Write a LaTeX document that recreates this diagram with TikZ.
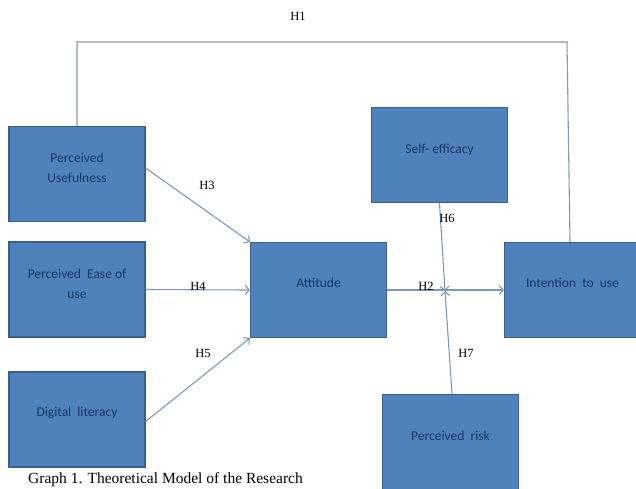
\documentclass[tikz,border=0pt]{standalone}
\usepackage{fontspec}
\setmainfont{Liberation Serif}
\newfontfamily\boxfont{Carlito}
\usetikzlibrary{arrows.meta}
\definecolor{boxblue}{HTML}{4F81BD}
\definecolor{boxline}{HTML}{3A5F8C}
\definecolor{boxtextcol}{HTML}{17365D}
\definecolor{arrowcol}{HTML}{7F98B8}
\definecolor{linegray}{HTML}{8A97A5}

\begin{document}
\begin{tikzpicture}[x=1pt,y=1pt]

%
% Styles
%
\tikzstyle{box}     = [rectangle,draw=boxline,fill=boxblue,line width=1.2pt,minimum width=136pt,minimum height=95pt,inner sep=0pt]
\tikzstyle{boxtext} = [align=center,text=boxtextcol,font=\boxfont\fontsize{13.5}{20}\selectfont]
\tikzstyle{edge}    = [-{Straight Barb[length=4pt,width=9pt]},draw=arrowcol,line width=1.1pt]
\tikzstyle{tag}     = [font=\fontsize{12.5}{14}\selectfont,inner sep=0pt]

\useasboundingbox (0,0) rectangle (636,-488);

\node[box] (pu)  at ( 77,  -174) {};
\node[box] (peu) at ( 77,-289.5) {};
\node[box] (dl)  at ( 77,-419.5) {};
\node[box] (att) at (318.5, -290) {};
\node[box] (se)  at (439.5, -155) {};
\node[box] (iu)  at (572.5, -290) {};
\node[box] (pr)  at (450.5, -442) {};

\node[boxtext] (pu-text)  at ([yshift=6]pu)  {Perceived\\Usefulness};
\node[boxtext] (peu-text) at ([yshift=6]peu) {Perceived\ \ Ease of\\use};
\node[boxtext] (dl-text)  at ([yshift=7]dl)  {Digital\ \ literacy};
\node[boxtext] (att-text) at ([yshift=7]att) {Attitude};
\node[boxtext] (se-text)  at ([yshift=5]se)  {Self- efficacy};
\node[boxtext] (iu-text)  at ([yshift=7]iu)  {Intention\ \ to\ \ use};
\node[boxtext] (pr-text)  at ([yshift=6]pr)  {Perceived\ \ risk};

\coordinate (cross)  at (445,-291);
\coordinate (corner) at (567,-42);

\draw[draw=linegray,line width=1.1pt] (pu.north) |- (corner) -- ([xshift=-2.5]iu.north);
\draw[edge] ([yshift=6]pu.east) -- (att.north west);
\draw[edge] (peu.east) -- (att.west);
\draw[edge] ([yshift=-2]dl.east) -- (att.south west);
\draw[edge] (att.east) -- (iu.west);
\draw[edge] (se.south) -- (cross);
\draw[edge] ([xshift=1.5]pr.north) -- (cross);

\node[tag] (h1) at (298, -16) {H1};
\node[tag] (h3) at (207,-185) {H3};
\node[tag] (h4) at (198,-286) {H4};
\node[tag] (h5) at (203,-353) {H5};
\node[tag] (h2) at (426,-286) {H2};
\node[tag] (h6) at (447,-218) {H6};
\node[tag] (h7) at (466,-353) {H7};

\node[anchor=base west,inner sep=0pt,font=\fontsize{15.5}{17}\selectfont] (caption) at (28,-483.5) {Graph 1. Theoretical Model of the Research};

\end{tikzpicture}
\end{document}
